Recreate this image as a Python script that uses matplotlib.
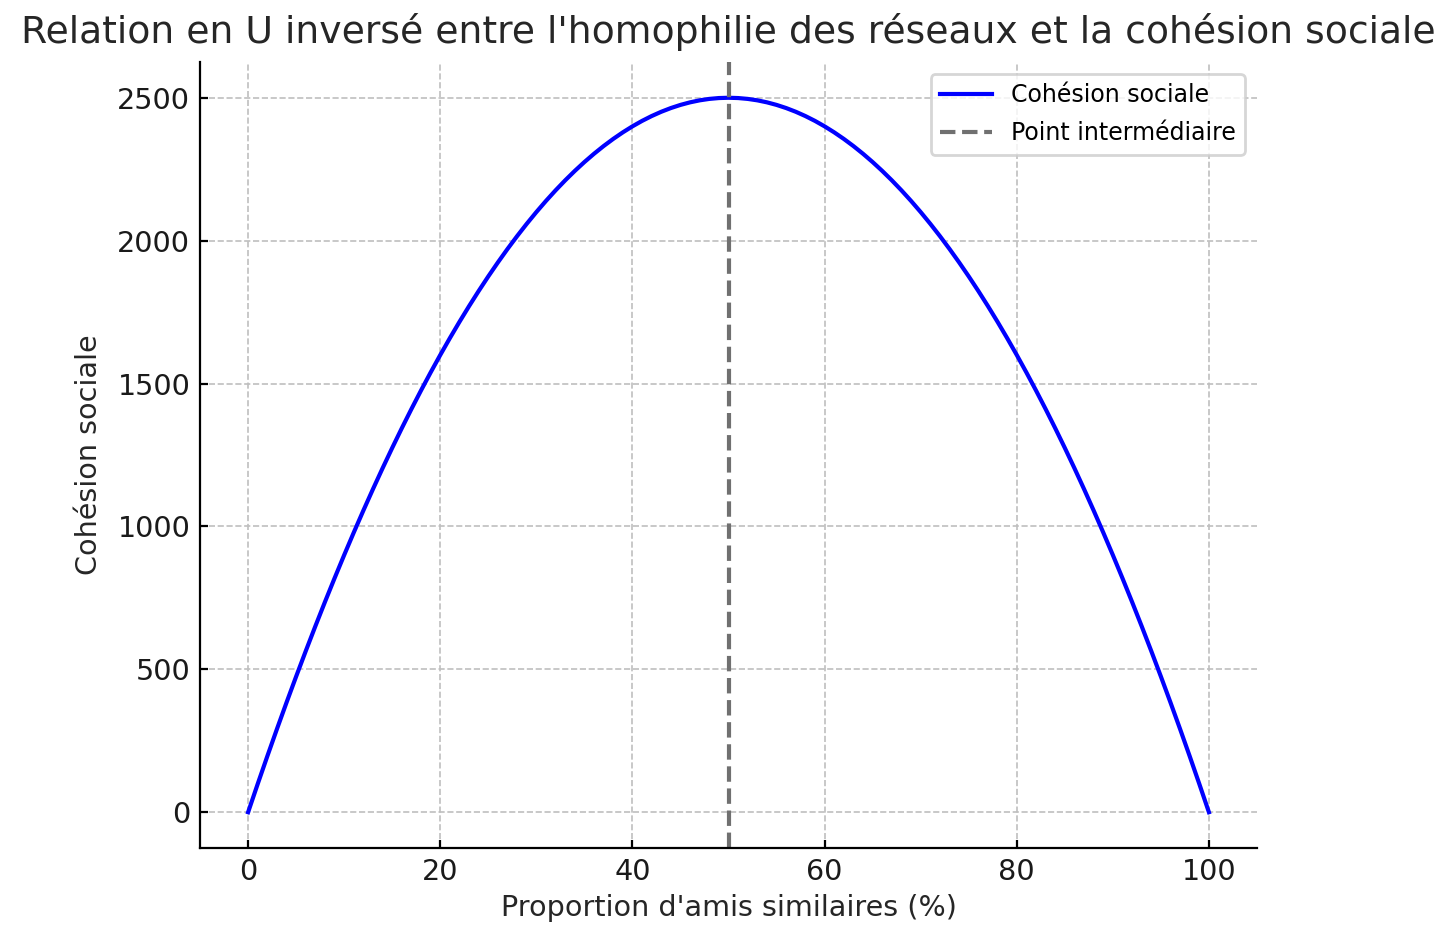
import numpy as np
import matplotlib
matplotlib.use("Agg")
import matplotlib.pyplot as plt

# proportion d'amis similaires (%)
proportion = np.arange(0, 101, 1)
cohesion_gauche = [0, 99, 196, 291, 384, 475, 564, 651, 736, 819,
                   900, 979, 1056, 1131, 1204, 1275, 1344, 1411, 1476, 1539,
                   1600, 1659, 1716, 1771, 1824, 1875, 1924, 1971, 2016, 2059,
                   2100, 2139, 2176, 2211, 2244, 2275, 2304, 2331, 2356, 2379,
                   2400, 2419, 2436, 2451, 2464, 2475, 2484, 2491, 2496, 2499,
                   2500]
cohesion = cohesion_gauche + cohesion_gauche[-2::-1]
point_milieu = 50

plt.rcParams['font.family'] = ['DejaVu Sans']

fig = plt.figure(figsize=(7.28, 4.7), dpi=200)
ax = fig.add_axes([0.1374, 0.0979, 0.7259, 0.8361])

ax.plot(proportion, cohesion, color='blue', linewidth=1.5, label='Cohésion sociale')
ax.axvline(point_milieu, color='#707070', linestyle='--', linewidth=1.5,
           label='Point intermédiaire')

ax.set_title("Relation en U inversé entre l'homophilie des réseaux et la cohésion sociale",
             fontsize=13.6, color='#262626', pad=7)
ax.set_xlabel("Proportion d'amis similaires (%)", fontsize=10.3, color='#262626', labelpad=3)
ax.set_ylabel("Cohésion sociale", fontsize=10.3, color='#262626', labelpad=5)
ax.set_xticks([0, 20, 40, 60, 80, 100])
ax.set_yticks([0, 500, 1000, 1500, 2000, 2500])
ax.tick_params(labelsize=10.3, labelcolor='#1a1a1a', direction='in', length=3, pad=3.5)
ax.grid(True, linestyle='--', color='#bfbfbf', linewidth=0.6)
ax.spines['top'].set_visible(False)
ax.spines['right'].set_visible(False)
leg = ax.legend(loc='upper right', fontsize=8.5, framealpha=0.8, handlelength=2.2,
                labelspacing=0.6)

fig.savefig('out.png', dpi=200)
